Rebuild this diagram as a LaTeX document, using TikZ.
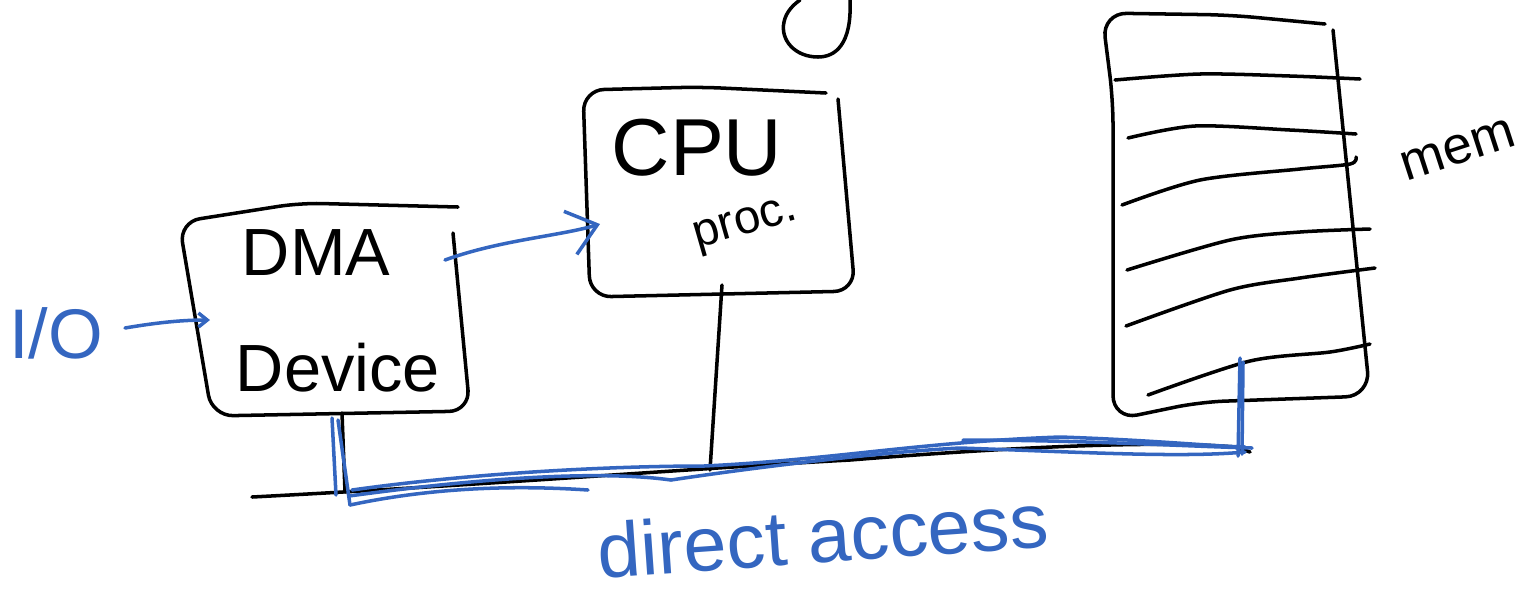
\documentclass[tikz,border=0pt]{standalone}
\usepackage{fontspec}
\setmainfont{Liberation Sans}
\usetikzlibrary{arrows.meta}
\definecolor{pen}{RGB}{52,102,192}
\begin{document}
\begin{tikzpicture}[x=0.02cm,y=-0.02cm,
  stroke/.style={line width=2pt,line cap=round,line join=round},
  blk/.style={stroke,draw=black},
  blu/.style={stroke,draw=pen},
  lbl/.style={inner sep=0pt,font=\fontsize{#1pt}{#1pt}\selectfont},
  barb/.style={-{Straight Barb[length=#1,width=1.6*#1,line width=2pt]}}]
\useasboundingbox (0,0) rectangle (1523,600);

% ---- DMA device box ----
\draw[blk,rounded corners=12] (458,207) -- (300,203) -- (179,222) -- (212,416) -- (470,411) -- (453,233);
\node[lbl=38] (dma) at (316,253) {DMA};
\node[lbl=38] (dev) at (338,368) {Device};

% ---- CPU box ----
\draw[blk,rounded corners=12] (826,93) -- (700,87) -- (583,90) -- (590,297) -- (855,291) -- (838,99);
\node[lbl=46] (cpu) at (697,148) {CPU};
\node[lbl=27,rotate=16] (proc) at (746,226) {proc.};
\draw[blk] (850,0) .. controls (852,45) and (835,57) .. (818,57)
  .. controls (795,57) and (780,40) .. (784,22) .. controls (786,12) and (793,5) .. (800,0);

% ---- memory ----
\draw[blk,rounded corners=14] (1325,24) -- (1230,15) -- (1102,13) -- (1113,100) -- (1113,420)
  -- (1200,402) -- (1370,396) -- (1333,30);
\draw[blk] plot[smooth] coordinates {(1115,80) (1200,74) (1290,76) (1360,79)};
\draw[blk] plot[smooth] coordinates {(1128,138) (1195,126) (1290,130) (1356,134)};
\draw[blk] plot[smooth] coordinates {(1122,205) (1200,180) (1300,169) (1350,164) (1356,157)};
\draw[blk] plot[smooth] coordinates {(1127,270) (1230,240) (1300,232) (1370,229)};
\draw[blk] plot[smooth] coordinates {(1126,326) (1230,290) (1300,278) (1375,268)};
\draw[blk] plot[smooth] coordinates {(1148,395) (1250,361) (1330,352) (1370,344)};
\node[lbl=30,rotate=18] (mem) at (1458,150) {mem};

% ---- bus ----
\coordinate (busL) at (252,497);
\coordinate (busR) at (1250,452);
\draw[blk] (busL) .. controls (500,484) and (700,468) .. (850,460)
  .. controls (1000,448) and (1150,440) .. (1235,447) -- (busR);
\coordinate (dmaB) at (342,413);
\coordinate (cpuB) at (722,285);
\draw[blk] (dmaB) -- (345,492);
\draw[blk] (cpuB) -- (710,470);

% ---- I/O into the DMA device ----
\node[lbl=40,text=pen] (io) at (56,333) {I/O};
\coordinate (dmaL) at (210,320);
\draw[blu,barb=5pt] (125,328) .. controls (160,322) and (185,320) .. (dmaL);

% ---- DMA signals the CPU ----
\coordinate (cpuL) at (600,224);
\draw[blu,barb=16pt] (445,260) .. controls (500,240) and (560,236) .. (cpuL);

% ---- direct access path: DMA -> bus -> memory ----
\draw[blu] (332,418) -- (336,495);
\draw[blu] (338,420) -- (350,505);
\draw[blu] (350,505) .. controls (420,490) and (500,484) .. (588,490);
\draw[blu] (349,496) .. controls (480,478) and (600,470) .. (671,480)
  .. controls (750,468) and (880,452) .. (960,448) .. controls (1080,452) and (1180,458) .. (1245,452);
\draw[blu] (352,490) .. controls (480,472) and (620,466) .. (704,466)
  .. controls (830,460) and (920,442) .. (1060,437) .. controls (1150,440) and (1210,446) .. (1245,447);
\draw[blu] (963,440) .. controls (1080,440) and (1180,446) .. (1252,448);
\coordinate (memB) at (1240,358);
\draw[blu] (memB) -- (1238,456);
\draw[blu] (1243,362) -- (1242,454);
\node[lbl=44,text=pen,rotate=4] (acc) at (823,535) {direct access};
\end{tikzpicture}
\end{document}
